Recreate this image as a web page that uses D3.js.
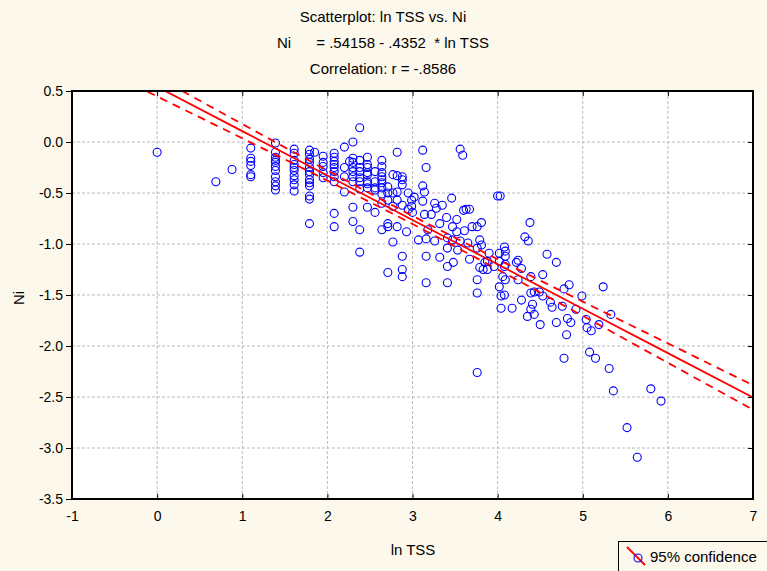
<!DOCTYPE html>
<html>
<head>
<meta charset="utf-8">
<script src="https://cdn.jsdelivr.net/npm/d3@7"></script>
<style>
  body { margin: 0; background: #fcf8ec; }
  text { font-family: "Liberation Sans", Arial, sans-serif; fill: #000; }
  .narrow { font-family: "Liberation Sans Narrow", "Arial Narrow", "Liberation Sans", sans-serif; }
</style>
</head>
<body>
<div id="chart"></div>
<script>
var obs = [
  [0.00,-0.10],[0.69,-0.39],[0.88,-0.27],
  [1.10,-0.06],[1.10,-0.16],[1.10,-0.19],[1.10,-0.23],[1.10,-0.32],[1.10,-0.34],
  [1.39,-0.01],[1.39,-0.10],[1.39,-0.15],[1.39,-0.18],[1.39,-0.20],[1.39,-0.24],[1.39,-0.28],[1.39,-0.34],[1.39,-0.39],[1.39,-0.43],[1.39,-0.47],
  [1.61,-0.07],[1.61,-0.11],[1.61,-0.18],[1.61,-0.22],[1.61,-0.25],[1.61,-0.28],[1.61,-0.33],[1.61,-0.37],[1.61,-0.42],[1.61,-0.48],
  [1.79,-0.08],[1.79,-0.12],[1.79,-0.17],[1.79,-0.20],[1.79,-0.25],[1.79,-0.29],[1.79,-0.32],[1.79,-0.37],[1.79,-0.40],[1.79,-0.43],[1.79,-0.53],[1.79,-0.56],[1.79,-0.80],
  [1.85,-0.10],
  [1.95,-0.14],[1.95,-0.20],[1.95,-0.24],[1.95,-0.30],[1.95,-0.35],
  [2.08,-0.11],[2.08,-0.15],[2.08,-0.19],[2.08,-0.22],[2.08,-0.25],[2.08,-0.29],[2.08,-0.34],[2.08,-0.39],[2.08,-0.70],[2.08,-0.83],
  [2.20,-0.05],[2.20,-0.25],[2.20,-0.34],[2.20,-0.49],
  [2.30,0.00],[2.30,-0.16],[2.26,-0.19],[2.30,-0.20],[2.30,-0.25],[2.30,-0.29],[2.30,-0.34],[2.30,-0.39],[2.30,-0.64],[2.30,-0.78],
  [2.38,0.14],[2.38,-0.18],[2.38,-0.25],[2.38,-0.29],[2.38,-0.35],[2.38,-0.39],[2.38,-0.46],[2.38,-0.86],[2.38,-1.08],
  [2.47,-0.15],[2.47,-0.22],[2.47,-0.25],[2.47,-0.30],[2.47,-0.32],[2.47,-0.39],[2.47,-0.41],[2.47,-0.45],[2.47,-0.64],
  [2.56,-0.29],[2.56,-0.39],[2.56,-0.45],[2.56,-0.47],[2.56,-0.69],
  [2.64,-0.18],[2.64,-0.24],[2.64,-0.30],[2.64,-0.34],[2.64,-0.37],[2.64,-0.40],[2.64,-0.45],[2.64,-0.51],[2.64,-0.60],[2.64,-0.86],
  [2.71,-0.44],[2.71,-0.50],[2.71,-0.57],[2.71,-0.80],[2.71,-0.83],[2.71,-1.28],
  [2.77,-0.32],[2.77,-0.50],[2.77,-0.63],[2.77,-0.98],
  [2.82,-0.10],[2.82,-0.33],[2.82,-0.49],[2.82,-0.57],[2.82,-0.83],
  [2.88,-0.34],[2.88,-0.37],[2.88,-0.42],[2.88,-0.62],[2.88,-1.12],[2.88,-1.25],[2.88,-1.32],
  [2.93,-0.88],[2.95,-0.50],[2.95,-0.66],[2.99,-0.57],[2.99,-0.63],[3.00,-0.69],[3.02,-0.54],[3.07,-0.96],
  [3.12,-0.08],[3.12,-0.43],[3.14,-0.49],[3.12,-0.58],[3.14,-0.71],[3.16,-0.25],[3.16,-0.95],[3.16,-1.12],[3.16,-1.38],[3.18,-0.86],
  [3.22,-0.71],[3.26,-0.60],[3.28,-0.65],[3.26,-0.97],[3.32,-0.80],[3.32,-1.13],[3.35,-0.62],
  [3.40,-0.74],[3.41,-0.94],[3.41,-1.04],[3.41,-1.22],[3.41,-1.38],[3.46,-0.55],[3.47,-0.83],[3.47,-0.96],[3.48,-1.18],
  [3.52,-0.76],[3.52,-0.88],[3.53,-1.06],[3.56,-0.97],[3.56,-0.07],[3.59,-0.13],[3.61,-0.87],
  [3.60,-0.67],[3.63,-0.66],[3.67,-0.66],
  [3.65,-0.99],[3.67,-1.15],[3.70,-0.83],[3.76,-0.83],[3.81,-0.79],[3.79,-0.96],[3.81,-1.01],[3.76,-1.04],[3.76,-1.35],[3.76,-1.48],[3.76,-2.26],
  [3.79,-1.23],[3.83,-1.25],[3.85,-1.18],[3.88,-1.25],[3.88,-1.17],[3.90,-1.09],[3.96,-1.22],
  [4.00,-0.53],[4.03,-0.53],[4.02,-1.09],[4.02,-1.17],[4.02,-1.42],[4.04,-1.51],[4.04,-1.63],[4.06,-1.32],
  [4.08,-1.03],[4.09,-1.07],[4.09,-1.12],[4.09,-1.20],[4.08,-1.22],[4.09,-1.35],[4.08,-1.50],[4.17,-1.63],
  [4.22,-1.18],[4.24,-1.16],[4.28,-1.24],[4.24,-1.35],[4.28,-1.55],[4.32,-0.93],[4.36,-0.97],[4.38,-0.79],
  [4.39,-1.32],[4.39,-1.48],[4.41,-1.59],[4.39,-1.64],[4.35,-1.71],[4.43,-1.69],[4.50,-1.79],[4.53,-1.30],[4.53,-1.51],[4.58,-1.10],[4.43,-1.47],[4.49,-1.47],
  [4.69,-1.18],[4.78,-1.44],[4.84,-1.40],[4.62,-1.57],[4.64,-1.62],[4.76,-1.61],[4.82,-1.73],[4.86,-1.77],[4.69,-1.77],[4.92,-1.64],
  [4.99,-1.51],[5.04,-1.74],[5.05,-1.82],[5.10,-1.85],[5.19,-1.79],[5.24,-1.42],[5.33,-1.69],[4.81,-1.89],[4.78,-2.12],
  [5.08,-2.06],[5.15,-2.12],[5.31,-2.22],[5.36,-2.44],[5.80,-2.42],[5.92,-2.54],[5.52,-2.80],[5.64,-3.09]
];

var xTicks = [-1, 0, 1, 2, 3, 4, 5, 6, 7];
var xTickLabels = ["-1", "0", "1", "2", "3", "4", "5", "6", "7"];
var yTicks = [0.5, 0, -0.5, -1, -1.5, -2, -2.5, -3, -3.5];
var yTickLabels = ["0.5", "0.0", "-0.5", "-1.0", "-1.5", "-2.0", "-2.5", "-3.0", "-3.5"];

// fitted line (from the title) and half width of the 95% band
var fitIntercept = 0.54158, fitSlope = -0.4352;
var bandX    = [-1, 0, 1, 2, 3, 4, 5, 6, 7];
var bandHalf = [0.125, 0.095, 0.07, 0.05, 0.04, 0.05, 0.07, 0.095, 0.12];

var titles = ["Scatterplot: ln TSS vs. Ni", "Ni      = .54158 - .4352  * ln TSS", "Correlation: r = -.8586"];

var W = 767, H = 571;
var margin = {top: 91, right: 14, bottom: 72, left: 72},
    width = W - margin.left - margin.right,
    height = H - margin.top - margin.bottom;

var svg = d3.select("#chart").append("svg")
    .attr("width", W)
    .attr("height", H);

// titles
svg.selectAll("text.title")
    .data(titles)
    .enter().append("text")
    .attr("class", "title narrow")
    .attr("x", 383)
    .attr("y", function(d, i) { return 22 + i * 26; })
    .attr("text-anchor", "middle")
    .style("font-size", "15px")
    .style("white-space", "pre")
    .text(function(d) { return d; });

var g = svg.append("g")
    .attr("transform", "translate(" + margin.left + "," + margin.top + ")");

var x = d3.scaleLinear().domain([-1, 7]).range([0, width]);
var y = d3.scaleLinear().domain([-3.5, 0.5]).range([height, 0]);

g.append("rect")
    .attr("width", width)
    .attr("height", height)
    .attr("fill", "#fff");

g.append("clipPath").attr("id", "clip")
  .append("rect").attr("width", width).attr("height", height);

// grid
g.selectAll("line.vgrid")
    .data(xTicks.slice(1, -1))
    .enter().append("line")
    .attr("x1", function(d) { return x(d); })
    .attr("x2", function(d) { return x(d); })
    .attr("y1", 0).attr("y2", height)
    .attr("stroke", "#bbb").attr("stroke-dasharray", "3,2");

g.selectAll("line.hgrid")
    .data(yTicks.slice(1, -1))
    .enter().append("line")
    .attr("y1", function(d) { return y(d); })
    .attr("y2", function(d) { return y(d); })
    .attr("x1", 0).attr("x2", width)
    .attr("stroke", "#bbb").attr("stroke-dasharray", "3,2");

// axes
var yAxis = g.append("g")
    .call(d3.axisLeft(y).tickValues(yTicks)
      .tickFormat(function(d, i) { return yTickLabels[i]; })
      .tickSize(6).tickPadding(3));
var xAxis = g.append("g")
    .attr("transform", "translate(0," + height + ")")
    .call(d3.axisBottom(x).tickValues(xTicks)
      .tickFormat(function(d, i) { return xTickLabels[i]; })
      .tickSize(-5).tickPadding(12));
g.append("g")
    .call(d3.axisTop(x).tickValues(xTicks).tickFormat("").tickSize(-5));
g.append("g")
    .attr("transform", "translate(" + width + ",0)")
    .call(d3.axisRight(y).tickValues(yTicks).tickFormat("").tickSize(-5));

g.selectAll(".domain").remove();
g.selectAll(".tick line").attr("stroke", "#000");
g.selectAll(".tick text")
    .style("font-size", "14px")
    .style("font-family", "\"Liberation Sans\", Arial, sans-serif")
    .attr("fill", "#000");

// points
g.append("g").selectAll("circle")
    .data(obs)
    .enter().append("circle")
    .attr("cx", function(d) { return x(d[0]); })
    .attr("cy", function(d) { return y(d[1]); })
    .attr("r", 4)
    .attr("fill", "none")
    .attr("stroke", "#0000ff")
    .attr("stroke-width", 1.1);

// regression line and 95% band
var fit = function(v) { return fitIntercept + fitSlope * v; };
var lines = g.append("g").attr("clip-path", "url(#clip)");

var mid = d3.line()
    .x(function(d) { return x(d); })
    .y(function(d) { return y(fit(d)); });
var up = d3.line().curve(d3.curveMonotoneX)
    .x(function(d) { return x(d); })
    .y(function(d, i) { return y(fit(d) + bandHalf[i]); });
var lo = d3.line().curve(d3.curveMonotoneX)
    .x(function(d) { return x(d); })
    .y(function(d, i) { return y(fit(d) - bandHalf[i]); });

lines.append("path").attr("d", mid(bandX))
    .attr("fill", "none").attr("stroke", "#ff0000").attr("stroke-width", 1.8);
[up, lo].forEach(function(l) {
  lines.append("path").attr("d", l(bandX))
    .attr("fill", "none").attr("stroke", "#ff0000").attr("stroke-width", 1.8)
    .attr("stroke-dasharray", "8,6");
});

// frame
g.append("rect")
    .attr("width", width)
    .attr("height", height)
    .attr("fill", "none")
    .attr("stroke", "#000")
    .attr("stroke-width", 2);

// axis titles
svg.append("text")
    .attr("class", "narrow")
    .attr("x", 413).attr("y", 555)
    .attr("text-anchor", "middle")
    .style("font-size", "15px")
    .text("ln TSS");

svg.append("text")
    .attr("class", "narrow")
    .attr("transform", "translate(24,298) rotate(-90)")
    .attr("text-anchor", "middle")
    .style("font-size", "15px")
    .text("Ni");

// legend
var leg = svg.append("g").attr("transform", "translate(618,541)");
leg.append("rect")
    .attr("x", 0.5).attr("y", 0.5)
    .attr("width", 152).attr("height", 32)
    .attr("fill", "#fcf8ec").attr("stroke", "#000");
leg.append("line")
    .attr("x1", 9).attr("y1", 6).attr("x2", 27).attr("y2", 24)
    .attr("stroke", "#ff0000").attr("stroke-width", 1.8);
leg.append("circle")
    .attr("cx", 20).attr("cy", 17).attr("r", 4)
    .attr("fill", "none").attr("stroke", "#0000ff").attr("stroke-width", 1.1);
leg.append("text")
    .attr("class", "narrow")
    .attr("x", 32).attr("y", 21)
    .style("font-size", "15px")
    .text("95% confidence");
</script>
</body>
</html>
